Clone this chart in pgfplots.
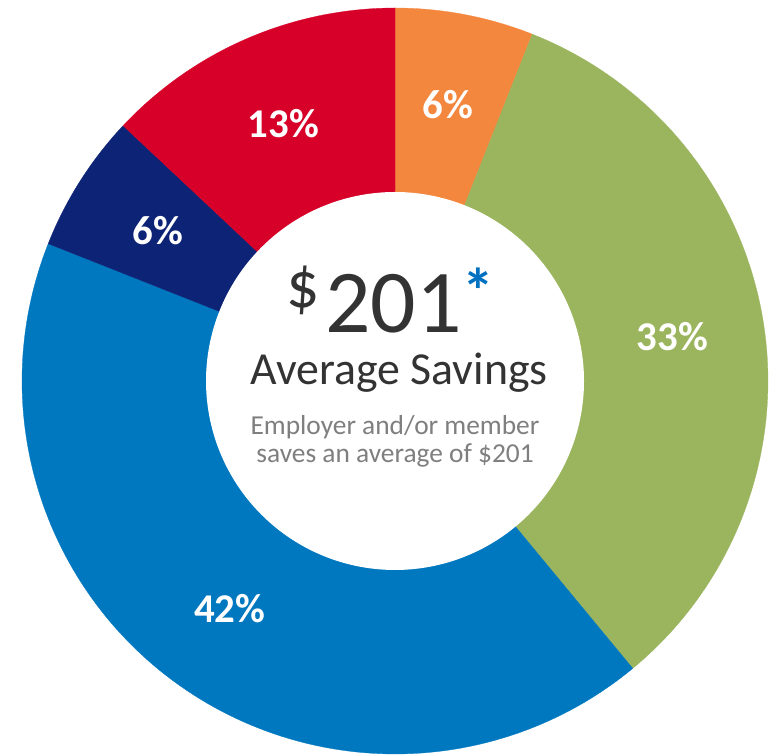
\documentclass[border=0pt]{standalone}
\usepackage{fontspec}
\setmainfont{Carlito}
\usepackage{pgfplots}
\pgfplotsset{compat=1.18}
\definecolor{cOrange}{RGB}{243,135,62}
\definecolor{cGreen}{RGB}{155,181,95}
\definecolor{cBlue}{RGB}{0,120,192}
\definecolor{cNavy}{RGB}{13,35,118}
\definecolor{cRed}{RGB}{214,0,40}
\definecolor{cDark}{RGB}{51,51,51}
\definecolor{cGray}{RGB}{127,127,127}
\definecolor{cStar}{RGB}{0,112,192}
% slice shares in percent, clockwise from the top
\def\pA{6}\def\pB{33}\def\pC{42}\def\pD{6}\def\pE{13}
\def\R{373}\def\r{189}\def\mr{281}
\begin{document}
\begin{tikzpicture}
\pgfmathsetmacro\aA{90}
\pgfmathsetmacro\aB{\aA-3.6*\pA}
\pgfmathsetmacro\aC{\aB-3.6*\pB}
\pgfmathsetmacro\aD{\aC-3.6*\pC}
\pgfmathsetmacro\aE{\aD-3.6*\pD}
\pgfmathsetmacro\aF{\aE-3.6*\pE}
\begin{axis}[width=769bp,height=754bp,scale only axis,hide axis,
  xmin=-395,xmax=374,ymin=-373,ymax=381,clip=false]
\addplot[draw=none] coordinates {(-395,-373) (374,381)};
\addplot[fill=cOrange,draw=cOrange,line width=0.3pt,domain=\aB:\aA,samples=40,variable=\t] ({\R*cos(\t)},{\R*sin(\t)}) -- (0,0) -- cycle;
\addplot[fill=cGreen,draw=cGreen,line width=0.3pt,domain=\aC:\aB,samples=100,variable=\t] ({\R*cos(\t)},{\R*sin(\t)}) -- (0,0) -- cycle;
\addplot[fill=cBlue,draw=cBlue,line width=0.3pt,domain=\aD:\aC,samples=120,variable=\t] ({\R*cos(\t)},{\R*sin(\t)}) -- (0,0) -- cycle;
\addplot[fill=cNavy,draw=cNavy,line width=0.3pt,domain=\aE:\aD,samples=40,variable=\t] ({\R*cos(\t)},{\R*sin(\t)}) -- (0,0) -- cycle;
\addplot[fill=cRed,draw=cRed,line width=0.3pt,domain=\aF:\aE,samples=60,variable=\t] ({\R*cos(\t)},{\R*sin(\t)}) -- (0,0) -- cycle;
\addplot[fill=white,draw=none,domain=0:360,samples=241,variable=\t] ({\r*cos(\t)},{\r*sin(\t)}) -- cycle;
% slice labels
\tikzset{lab/.style={text=white,inner sep=0pt,font=\fontsize{41}{48}\selectfont\bfseries}}
\node[lab] at (axis cs:{\mr*cos((\aA+\aB)/2)},{\mr*sin((\aA+\aB)/2)}) {\pA\%};
\node[lab] at (axis cs:{\mr*cos((\aB+\aC)/2)},{\mr*sin((\aB+\aC)/2)}) {\pB\%};
\node[lab] at (axis cs:{\mr*cos((\aC+\aD)/2)},{\mr*sin((\aC+\aD)/2)}) {\pC\%};
\node[lab] at (axis cs:{\mr*cos((\aD+\aE)/2)},{\mr*sin((\aD+\aE)/2)}) {\pD\%};
\node[lab] at (axis cs:{\mr*cos((\aE+\aF)/2)},{\mr*sin((\aE+\aF)/2)}) {\pE\%};
% centre text
\node[anchor=base,inner sep=0pt,text=cDark,font=\fontsize{90}{100}\selectfont] at (axis cs:-1.5,48) {201};
\node[anchor=base east,inner sep=0pt,text=cDark,font=\fontsize{66}{70}\selectfont] at (axis cs:-75,73) {\$};
\node[anchor=base,inner sep=0pt,text=cStar,font=\fontsize{64}{70}\selectfont\bfseries] at (axis cs:83,67) {*};
\node[anchor=base,inner sep=0pt,text=cDark,font=\fontsize{46}{54}\selectfont] at (axis cs:4,-4) {Average Savings};
\node[anchor=base,inner sep=0pt,text=cGray,font=\fontsize{27.5}{32}\selectfont] at (axis cs:0,-54) {Employer and/or member};
\node[anchor=base,inner sep=0pt,text=cGray,font=\fontsize{27.5}{32}\selectfont] at (axis cs:0,-82) {saves an average of \$201};
\end{axis}
\end{tikzpicture}
\end{document}
